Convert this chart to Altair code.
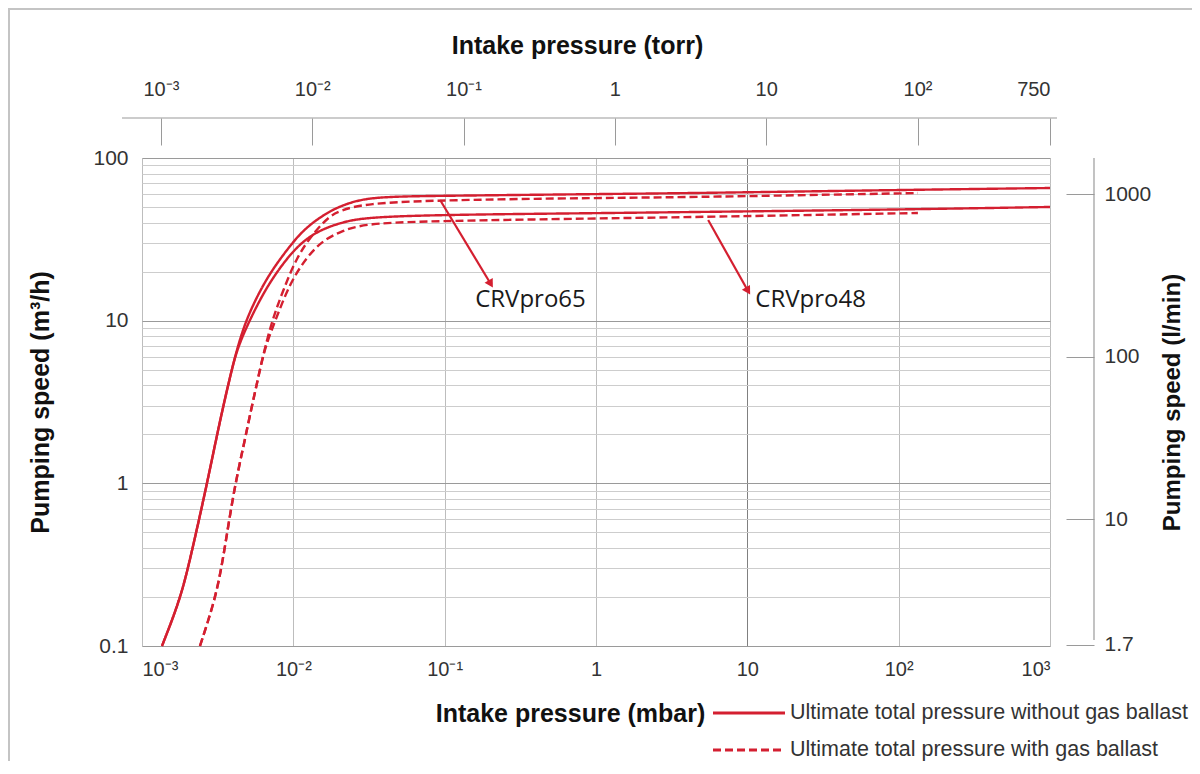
import altair as alt
import pandas as pd

# ---------------- data ----------------
# Intake pressure (mbar) and pumping speed (m3/h)
S65_X = [0.001355, 0.001783, 0.002076, 0.002608, 0.002959, 0.003363, 0.003817, 0.004225, 0.004795, 0.005728,
         0.007015, 0.009046, 0.01159, 0.01571, 0.02036, 0.0289, 0.047, 0.1, 1, 4.9, 100, 1000]
S65_Y = [0.1, 0.192, 0.338, 0.873, 1.537, 2.708, 4.508, 6.605, 9.68, 13.99,
         19.65, 27.2, 36.1, 44.6, 50.7, 56.3, 58.0, 58.6, 60.0, 60.9, 63.6, 65.4]

S48_X = [0.001355, 0.001783, 0.002076, 0.002608, 0.002959, 0.003363, 0.003817, 0.004225, 0.005042, 0.006332,
         0.008173, 0.01107, 0.01501, 0.02036, 0.0289, 0.1, 1, 4.9, 100, 1000]
S48_Y = [0.1, 0.192, 0.338, 0.873, 1.537, 2.708, 4.508, 6.605, 9.68, 14.8,
         21.38, 30.03, 36.1, 39.86, 43.2, 44.8, 45.8, 46.6, 48.2, 50.0]

D65_X = [0.002416, 0.003039, 0.003431, 0.004013, 0.004672, 0.005309, 0.005871, 0.006501, 0.007377, 0.008587,
         0.01053, 0.01356, 0.01748, 0.02036, 0.0289, 0.1, 1, 4.9, 134]
D65_Y = [0.1, 0.192, 0.338, 0.873, 1.674, 2.949, 4.508, 6.892, 10.54, 15.44,
         24.63, 34.6, 44.3, 47.2, 52.6, 55.2, 56.8, 57.5, 60.9]

D48_X = [0.002416, 0.003039, 0.003431, 0.004013, 0.004672, 0.005309, 0.005871, 0.006501, 0.007767, 0.009511,
         0.01226, 0.01579, 0.02036, 0.0289, 0.1, 1, 4.9, 134]
D48_Y = [0.1, 0.192, 0.338, 0.873, 1.674, 2.949, 4.508, 6.892, 10.54, 17.05,
         24.63, 31.33, 35.1, 39.7, 41.1, 42.5, 43.4, 45.9]

# axis ticks
X_TICKS = [0.001, 0.01, 0.1, 1, 10, 100, 1000]
X_LABELS = ["10⁻³", "10⁻²", "10⁻¹", "1", "10", "10²", "10³"]
TORR_TICKS = [0.001, 0.01, 0.1, 1, 10, 100, 750]
TORR_LABELS = ["10⁻³", "10⁻²", "10⁻¹", "1", "10", "10²", "750"]
MBAR_PER_TORR = 1.33322
Y_MAJOR = [0.1, 1, 10, 100]
Y_MAJOR_LABELS = ["0.1", "1", "10", "100"]
LMIN_TICKS = [1.7, 10, 100, 1000]
LMIN_LABELS = ["1.7", "10", "100", "1000"]
M3H_PER_LMIN = 0.06

# annotations
ANN_NAMES = ["CRVpro65", "CRVpro48"]
ARROW_X = [0.0933, 5.51]
ARROW_Y = [55.2, 41.6]
ARROW_X2 = [0.1995, 10.0]
ARROW_Y2 = [17.1, 15.5]
LABEL_X = [0.159, 11.3]
LABEL_Y = [13.4, 13.4]

LEGEND_TEXT = ["Ultimate total pressure without gas ballast", "Ultimate total pressure with gas ballast"]

# ---------------- build tables ----------------
rows = []
for name, xs, ys, ballast in [("65 solid", S65_X, S65_Y, "without"), ("48 solid", S48_X, S48_Y, "without"),
                              ("65 dash", D65_X, D65_Y, "with"), ("48 dash", D48_X, D48_Y, "with")]:
    for x, y in zip(xs, ys):
        rows.append({"series": name, "p": x, "s": y, "ballast": ballast})
curves = pd.DataFrame(rows)

ann = pd.DataFrame({"name": ANN_NAMES, "x": ARROW_X, "y": ARROW_Y, "x2": ARROW_X2, "y2": ARROW_Y2,
                    "lx": LABEL_X, "ly": LABEL_Y})

minor = []
for d in [0.1, 1, 10]:
    for k in range(1, 10):
        minor.append(round(d * k, 6))
Y_GRID = minor + [100]


def label_expr(values, labels):
    expr = "''"
    for v, lab in reversed(list(zip(values, labels))):
        expr = f"abs(datum.value - {v}) < {v} * 0.01 ? '{lab}' : " + expr
    return expr


RED = "#d41f30"
FONT = "Liberation Sans Narrow, Liberation Sans, Arial"
TFONT = "Liberation Sans, Arial"
W, H = 908, 488

xscale = alt.Scale(type="log", domain=[0.001, 1000], nice=False)
yscale = alt.Scale(type="log", domain=[0.1, 100], nice=False)

x_bottom = alt.Axis(
    orient="bottom", values=X_TICKS, labelExpr=label_expr(X_TICKS, X_LABELS),
    grid=True, ticks=False, domain=False,
    gridColor={"condition": {"test": "abs(datum.value - 10) < 0.1", "value": "#808080"}, "value": "#bdbdbd"},
    labelFont=FONT, labelFontSize=20, labelColor="#333333", labelPadding=13,
    title="Intake pressure (mbar)", titleFont=TFONT, titleFontSize=25, titleFontWeight="bold",
    titleColor="#111111", titleX=428, titleY=67, titleAlign="center", titleBaseline="middle",
)
y_left = alt.Axis(
    orient="left", values=Y_GRID, labelExpr=label_expr(Y_MAJOR, Y_MAJOR_LABELS),
    grid=True, ticks=False, domain=False,
    gridColor={"condition": {"test": "abs(log(datum.value)/LN10 - round(log(datum.value)/LN10)) < 0.001",
                             "value": "#9a9a9a"}, "value": "#cdcdcd"},
    labelFont=FONT, labelFontSize=21, labelColor="#333333", labelPadding=14,
    title="Pumping speed (m³/h)", titleFont=TFONT, titleFontSize=25, titleFontWeight="bold",
    titleColor="#111111", titleX=-102, titleY=244, titleAlign="center", titleBaseline="middle", titleAngle=270,
)

torr_vals = [round(t * MBAR_PER_TORR, 6) if t != 750 else 1000 for t in TORR_TICKS]
x_top = alt.Axis(
    orient="top", values=torr_vals, labelExpr=label_expr(torr_vals, TORR_LABELS),
    grid=False, ticks=True, tickSize=27, tickColor="#9a9a9a", tickWidth=1, domain=False, offset=13,
    labelFont=FONT, labelFontSize=20, labelColor="#333333", labelPadding=19,
    title="Intake pressure (torr)", titleFont=TFONT, titleFontSize=25, titleFontWeight="bold",
    titleColor="#111111", titlePadding=21, titleX=435, titleAlign="center",
)
rvals = [round(v * M3H_PER_LMIN, 6) for v in LMIN_TICKS]
y_right = alt.Axis(
    orient="right", values=rvals, labelExpr=label_expr(rvals, LMIN_LABELS),
    grid=False, ticks=True, tickSize=28, tickColor="#9a9a9a", tickWidth=1, domain=False, offset=16,
    labelFont=FONT, labelFontSize=21, labelColor="#333333", labelPadding=10,
    title="Pumping speed (l/min)", titleFont=TFONT, titleFontSize=24, titleFontWeight="bold",
    titleColor="#111111", titleAngle=270, titleX=106, titleY=H / 2, titleAlign="center", titleBaseline="middle",
)

base = alt.Chart(curves)

lines = base.mark_line(strokeWidth=2.4, color=RED, interpolate="basis").encode(
    x=alt.X("p:Q", scale=xscale, axis=x_bottom),
    y=alt.Y("s:Q", scale=yscale, axis=y_left),
    detail="series:N",
    strokeDash=alt.StrokeDash("ballast:N", scale=alt.Scale(domain=["without", "with"], range=[[1, 0], [8, 4]]),
                              legend=None),
)

extra_axes = base.mark_point(opacity=0).encode(
    x=alt.X("p:Q", scale=xscale, axis=x_top),
    y=alt.Y("s:Q", scale=yscale, axis=y_right),
)

arrows = alt.Chart(ann).mark_rule(color=RED, strokeWidth=2.2).encode(
    x=alt.X("x:Q", scale=xscale, axis=None), y=alt.Y("y:Q", scale=yscale, axis=None),
    x2="x2:Q", y2="y2:Q",
)
heads = alt.Chart(ann).mark_point(shape="triangle", filled=True, color=RED, size=90, opacity=1, angle=149).encode(
    x=alt.X("x2:Q", scale=xscale, axis=None), y=alt.Y("y2:Q", scale=yscale, axis=None),
)
labels = alt.Chart(ann).mark_text(align="left", baseline="middle", font="Open Sans", fontSize=24,
                                  color="#1a1a1a").encode(
    x=alt.X("lx:Q", scale=xscale, axis=None), y=alt.Y("ly:Q", scale=yscale, axis=None), text="name:N",
)

# decorative axis lines (top torr axis line, right l/min axis line)
top_line = alt.Chart(pd.DataFrame({"a": [0]})).mark_rule(color="#9a9a9a", strokeWidth=1.2).encode(
    x=alt.value(-20), x2=alt.value(W + 7), y=alt.value(-40))
right_line = alt.Chart(pd.DataFrame({"a": [0]})).mark_rule(color="#9a9a9a", strokeWidth=1.2).encode(
    x=alt.value(W + 44), y=alt.value(0), y2=alt.value(H - 6))

# legend
leg = pd.DataFrame({"text": LEGEND_TEXT, "ballast": ["without", "with"], "yy": [555, 592]})
leg_lines = alt.Chart(leg).mark_rule(color=RED, strokeWidth=3).encode(
    x=alt.value(571), x2=alt.value(643), y=alt.Y("yy:Q", scale=None, axis=None),
    strokeDash=alt.StrokeDash("ballast:N", scale=alt.Scale(domain=["without", "with"], range=[[1, 0], [16, 9]]),
                              legend=None),
)
leg_text = alt.Chart(leg).mark_text(align="left", baseline="middle", font=FONT, fontSize=21.5,
                                    color="#333333").encode(
    x=alt.value(648), y=alt.Y("yy:Q", scale=None, axis=None), text="text:N")

frame = alt.Chart(pd.DataFrame({"a": [0]})).mark_rule(color="#c4c4c4", strokeWidth=2).encode(
    x=alt.value(-133), y=alt.value(-150), y2=alt.value(H + 115))
frame_top = alt.Chart(pd.DataFrame({"a": [0]})).mark_rule(color="#c4c4c4", strokeWidth=2).encode(
    x=alt.value(-133), x2=alt.value(W + 148), y=alt.value(-149))

chart = alt.layer(
    lines, extra_axes, arrows, heads, labels, top_line, right_line, leg_lines, leg_text, frame, frame_top
).resolve_axis(x="independent", y="independent").properties(
    width=W, height=H,
    autosize=alt.AutoSizeParams(type="none"),
    padding={"left": 134, "top": 150, "right": 142, "bottom": 116},
).configure_view(stroke=None).configure(background="white")

chart.save("out.html", embed_options={"renderer": "svg", "actions": False})
